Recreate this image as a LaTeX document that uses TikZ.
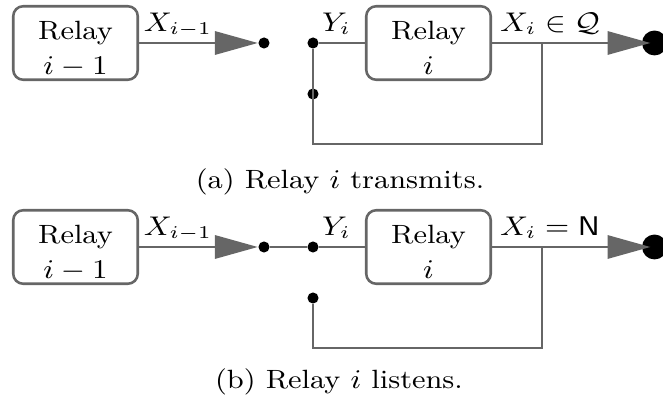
\documentclass[tikz,border=0pt]{standalone}
\usepackage{graphicx}
\usetikzlibrary{arrows.meta}
\newcommand{\wide}[1]{\scalebox{1.12}[1]{#1}}

\begin{document}
\begin{tikzpicture}[x=0.3333pt,y=-0.3333pt,
	relaybox/.style={rectangle, rounded corners=3.3pt, draw=black!60, line width=0.85pt, minimum width=41.5pt, minimum height=24.5pt, inner sep=0pt, align=center, text height=22.3pt, text depth=1pt, font=\fontsize{8.8}{11.9}\selectfont},
	smalldot/.style={circle, fill=black, inner sep=0pt, minimum size=3.7pt},
	bigdot/.style={circle, fill=black, inner sep=0pt, minimum size=8.3pt},
	lbl/.style={anchor=base, inner sep=0pt, font=\fontsize{8.8}{11.9}\selectfont},
	wire/.style={draw=black!60, line width=0.95pt},
	feed/.style={wire, -{Triangle[length=14.3pt,width=7.7pt]}},]
	\useasboundingbox (0,0) rectangle (663,401);

	% (a) relay i transmits
	\node[relaybox](prevA) at (75.5,43){\wide{Relay}\\\wide{$i-1$}};
	\node[smalldot](endA) at (264,43){};
	\node[smalldot](inA) at (313,43){};
	\node[smalldot](fbA) at (313,94){};
	\node[relaybox](relayA) at (428.5,43){\wide{Relay}\\\wide{$i$}};
	\node[bigdot](outA) at (654.5,43){};
	\coordinate (tapA) at (542,43);
	\coordinate (cornerA1) at (542,144);
	\coordinate (cornerA2) at (313,144);

	\draw[feed](prevA) -- (endA);
	\draw[wire](inA) -- (relayA);
	\draw[feed, shorten >=-3pt](relayA) -- (outA);
	\draw[wire](tapA) -- (cornerA1) -- (cornerA2) -- (inA);

	\node[lbl](xprevA) at (178,32){\wide{$X_{i-1}$}};
	\node[lbl](yA) at (336.5,32){\wide{$Y_i$}};
	\node[lbl](xA) at (550,32){\wide{$X_i\in\mathcal{Q}$}};
	\node[lbl](captA) at (340,189){\wide{(a) Relay $i$ transmits.}};

	% (b) relay i listens
	\node[relaybox](prevB) at (75.5,247){\wide{Relay}\\\wide{$i-1$}};
	\node[smalldot](endB) at (264,247){};
	\node[smalldot](inB) at (313,247){};
	\node[smalldot](fbB) at (313,298){};
	\node[relaybox](relayB) at (428.5,247){\wide{Relay}\\\wide{$i$}};
	\node[bigdot](outB) at (654.5,247){};
	\coordinate (tapB) at (542,247);
	\coordinate (cornerB1) at (542,348);
	\coordinate (cornerB2) at (313,348);

	\draw[feed](prevB) -- (endB);
	\draw[wire](endB) -- (inB);
	\draw[wire](inB) -- (relayB);
	\draw[feed, shorten >=-3pt](relayB) -- (outB);
	\draw[wire](tapB) -- (cornerB1) -- (cornerB2) -- (fbB);

	\node[lbl](xprevB) at (178,236){\wide{$X_{i-1}$}};
	\node[lbl](yB) at (336.5,236){\wide{$Y_i$}};
	\node[lbl](xB) at (550,236){\wide{$X_i=\mathsf{N}$}};
	\node[lbl](captB) at (339,389){\wide{(b) Relay $i$ listens.}};
\end{tikzpicture}
\end{document}
